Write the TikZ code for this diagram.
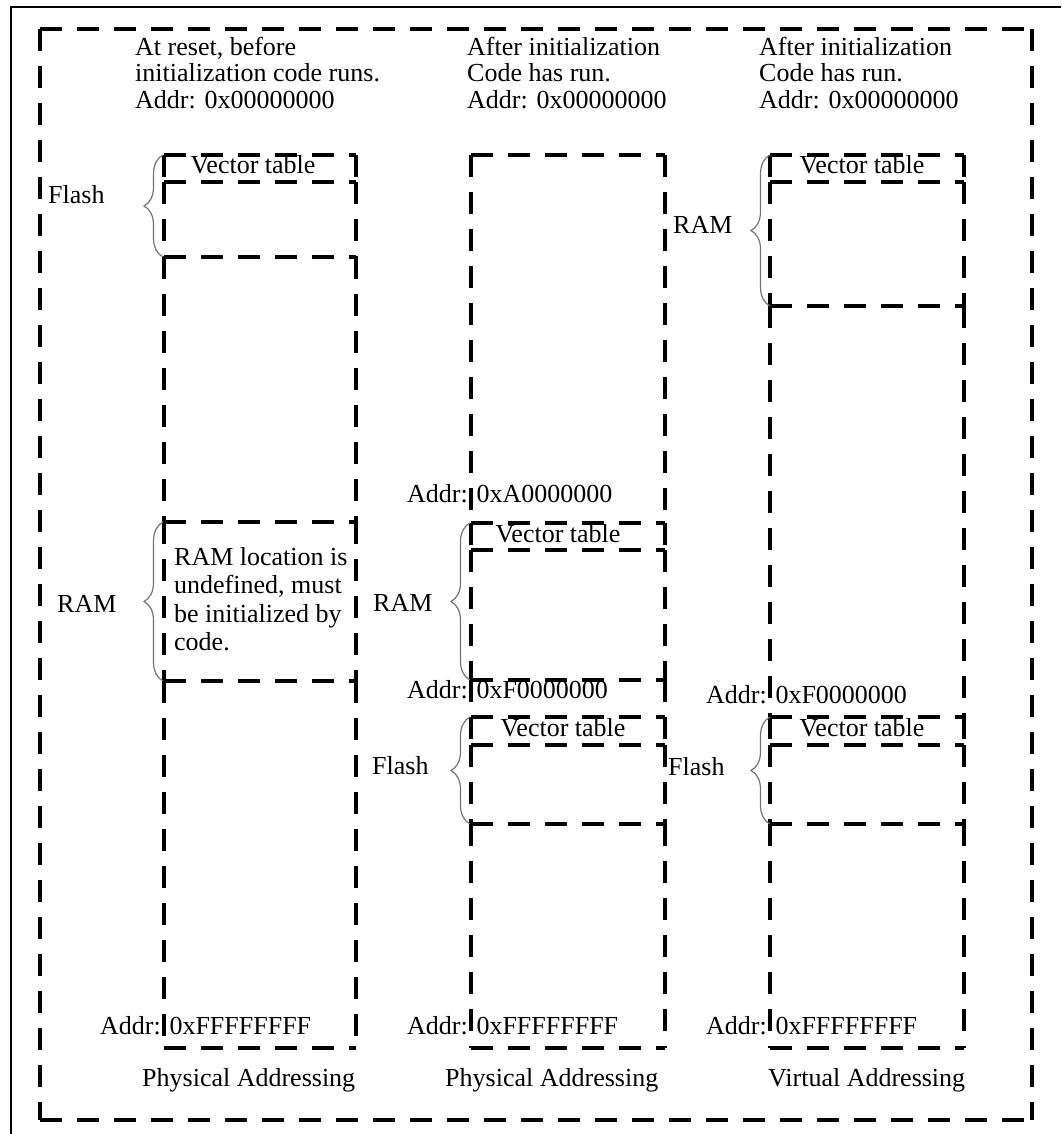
\documentclass[tikz,border=0pt]{standalone}
\usepackage{fontspec}
\setmainfont{Liberation Serif}
\usetikzlibrary{decorations.pathreplacing}
\tikzset{
  dline/.style={line width=3.5pt, dash pattern=on 22pt off 15pt, black},
  frameline/.style={line width=2.5pt, black},
  bracel/.style={draw=black!55, line width=1.2pt, decorate, decoration={brace, amplitude=19pt}},
  lbl/.style={anchor=base west, inner sep=0pt, font=\fontsize{26}{28}\selectfont},
  clbl/.style={anchor=base, inner sep=0pt, font=\fontsize{26}{28}\selectfont},
}
\newcommand\membox[4]{%
  \draw[dline] (#1,#2) -- (#3,#2);
  \draw[dline] (#1,#2) -- (#1,#4);
  \draw[dline] (#3,#2) -- (#3,#4);
  \draw[dline] (#1,#4) -- (#3,#4);
}
\begin{document}
\begin{tikzpicture}[x=1pt,y=-1pt]
\useasboundingbox (0,0) rectangle (1061,1134);
% frame
\draw[frameline] (11,1134) -- (11,7) -- (1061,7);
% outer dashed box
\membox{40}{29}{1032}{1120}
% column 1
\membox{164}{155}{356}{182}
\membox{164}{182}{356}{257}
\membox{164}{257}{356}{522}
\membox{164}{522}{356}{681}
\membox{164}{681}{356}{1048}
% column 2
\membox{471}{155}{665}{523}
\membox{471}{523}{665}{550}
\membox{471}{550}{665}{680}
\membox{471}{680}{665}{717}
\membox{471}{717}{665}{745}
\membox{471}{745}{665}{824}
\membox{471}{824}{665}{1048}
% column 3
\membox{770}{155}{964}{182}
\membox{770}{182}{964}{306}
\membox{770}{306}{964}{717}
\membox{770}{717}{964}{745}
\membox{770}{745}{964}{824}
\membox{770}{824}{964}{1048}
% headers
\node[lbl] (h1a) at (135,56) {At reset, before};
\node[lbl] (h1b) at (135,82) {initialization code runs.};
\node[lbl] (h1c) at (135,109) {Addr: 0x00000000};
\node[lbl] (h2a) at (467,56) {After initialization};
\node[lbl] (h2b) at (467,82) {Code has run.};
\node[lbl] (h2c) at (467,109) {Addr: 0x00000000};
\node[lbl] (h3a) at (759,56) {After initialization};
\node[lbl] (h3b) at (759,82) {Code has run.};
\node[lbl] (h3c) at (759,109) {Addr: 0x00000000};
% vector tables
\node[clbl] (v1) at (253,174) {Vector table};
\node[clbl] (v2) at (558,542) {Vector table};
\node[clbl] (v3) at (862,174) {Vector table};
\node[clbl] (v4) at (563,736) {Vector table};
\node[clbl] (v5) at (862,736) {Vector table};
% RAM note
\node[lbl] (n1) at (174,565) {RAM location is};
\node[lbl] (n2) at (174,593) {undefined, must};
\node[lbl] (n3) at (174,622) {be initialized by};
\node[lbl] (n4) at (174,650) {code.};
% region labels
\node[lbl] (f1) at (48,204) {Flash};
\node[lbl] (r1) at (57,612) {RAM};
\node[lbl] (r2) at (373,611) {RAM};
\node[lbl] (f2) at (372,774) {Flash};
\node[lbl] (r3) at (673,233) {RAM};
\node[lbl] (f3) at (668,775) {Flash};
% braces
\draw[bracel] (163,257) -- (163,155);
\draw[bracel] (163,681) -- (163,522);
\draw[bracel] (470,680) -- (470,523);
\draw[bracel] (470,824) -- (470,717);
\draw[bracel] (770,306) -- (770,155);
\draw[bracel] (770,824) -- (770,717);
% addresses
\node[lbl] (a1) at (407,502) {Addr: 0xA0000000};
\node[lbl] (a2) at (407,698) {Addr: 0xF0000000};
\node[lbl] (a3) at (706,703) {Addr: 0xF0000000};
\node[lbl] (e1) at (100,1034) {Addr: 0xFFFFFFFF};
\node[lbl] (e2) at (407,1034) {Addr: 0xFFFFFFFF};
\node[lbl] (e3) at (706,1034) {Addr: 0xFFFFFFFF};
% footers
\node[lbl] (p1) at (142,1086) {Physical Addressing};
\node[lbl] (p2) at (445,1086) {Physical Addressing};
\node[lbl] (p3) at (768,1086) {Virtual Addressing};
\end{tikzpicture}
\end{document}
